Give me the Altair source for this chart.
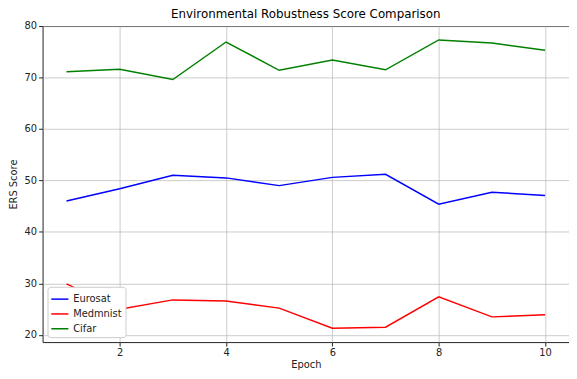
import altair as alt
import pandas as pd

epochs = [1, 2, 3, 4, 5, 6, 7, 8, 9, 10]
eurosat = [46.0, 48.4, 51.0, 50.5, 49.0, 50.6, 51.2, 45.4, 47.7, 47.1]
medmnist = [29.9, 25.0, 26.8, 26.6, 25.2, 21.3, 21.5, 27.4, 23.5, 23.9]
cifar = [71.1, 71.6, 69.6, 76.9, 71.4, 73.4, 71.5, 77.3, 76.7, 75.3]
series = ["Eurosat", "Medmnist", "Cifar"]
colors = ["#0000ff", "#ff0000", "#008000"]

rows = []
for name, vals in zip(series, [eurosat, medmnist, cifar]):
    for e, v in zip(epochs, vals):
        rows.append({"Epoch": e, "ERS": v, "Dataset": name})
df = pd.DataFrame(rows)

font = "DejaVu Sans"

chart = alt.Chart(df).mark_line(strokeWidth=1.5).encode(
    x=alt.X("Epoch:Q", scale=alt.Scale(domain=[0.55, 10.45], nice=False, zero=False),
            axis=alt.Axis(values=[2, 4, 6, 8, 10], title="Epoch", grid=True)),
    y=alt.Y("ERS:Q", scale=alt.Scale(domain=[18.6, 80], nice=False, zero=False),
            axis=alt.Axis(values=[20, 30, 40, 50, 60, 70, 80], title="ERS Score", grid=True)),
    color=alt.Color("Dataset:N", sort=series,
                    scale=alt.Scale(domain=series, range=colors),
                    legend=alt.Legend(title=None, orient="bottom-left", offset=5,
                                      symbolType="stroke", symbolStrokeWidth=1.5,
                                      symbolSize=300,
                                      fillColor="white", strokeColor="#cccccc",
                                      cornerRadius=3, padding=3, rowPadding=-3,
                                      labelFontSize=10, labelFont=font, labelColor="#222")),
).properties(
    width=533, height=320,
    title=alt.Title("Environmental Robustness Score Comparison", fontSize=12,
                    font=font, fontWeight="normal", color="#000", offset=0),
    autosize=alt.AutoSizeParams(type="none"),
    padding={"left": 35, "top": 16, "right": 0, "bottom": 27},
).configure_view(
    stroke="#222", strokeWidth=1
).configure_axis(
    labelFont=font, titleFont=font, labelFontSize=10, titleFontSize=10,
    labelColor="#222", titleColor="#222", titleFontWeight="normal",
    tickColor="#222", tickSize=4, domain=False,
    gridColor="#b0b0b0", gridWidth=0.8, gridOpacity=0.8,
    labelPadding=2,
).configure_axisX(
    titlePadding=2,
).configure_axisY(
    titlePadding=6,
)

chart.save("out.html", embed_options={"renderer": "svg", "actions": False})
